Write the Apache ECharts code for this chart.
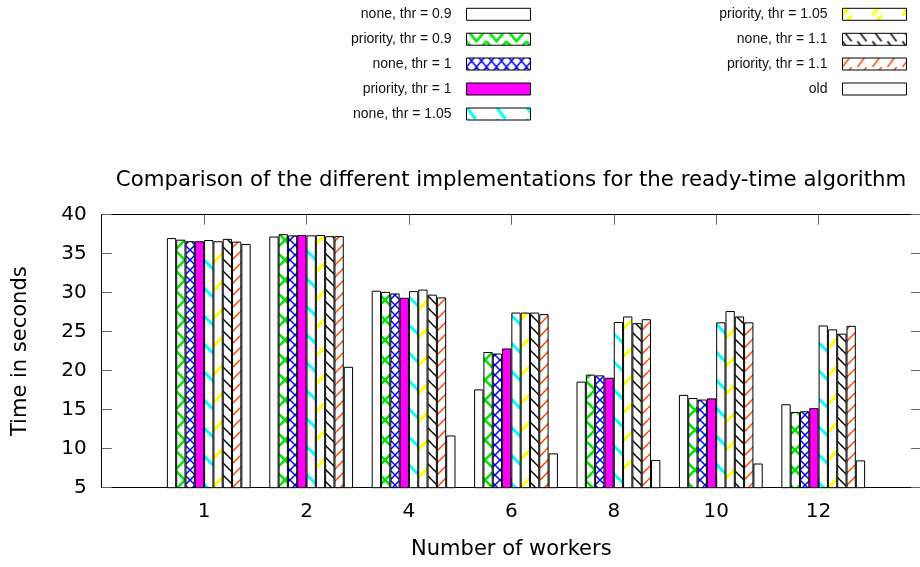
<!DOCTYPE html>
<html><head><meta charset="utf-8">
<script src="https://cdn.jsdelivr.net/npm/echarts@6/dist/echarts.min.js"></script>
<style>html,body{margin:0;padding:0;background:#fff}#c{width:920px;height:567px}</style>
</head><body><div id="c"></div>
<script>
// ---- data ----
const categories = ['1', '2', '4', '6', '8', '10', '12'];
const seriesNames = ['none, thr = 0.9', 'priority, thr = 0.9', 'none, thr = 1', 'priority, thr = 1',
  'none, thr = 1.05', 'priority, thr = 1.05', 'none, thr = 1.1', 'priority, thr = 1.1', 'old'];
const none09  = [37.0, 37.2, 30.25, 17.6, 18.6, 16.9, 15.7];
const prio09  = [36.8, 37.5, 30.1, 22.4, 19.5, 16.5, 14.7];
const none10  = [36.6, 37.35, 29.9, 22.2, 19.4, 16.3, 14.8];
const prio10  = [36.6, 37.4, 29.35, 22.85, 19.1, 16.45, 15.2];
const none105 = [36.75, 37.35, 30.2, 27.45, 26.25, 26.2, 25.8];
const prio105 = [36.6, 37.4, 30.4, 27.45, 26.95, 27.65, 25.3];
const none11  = [36.9, 37.25, 29.75, 27.45, 26.1, 26.95, 24.75];
const prio11  = [36.55, 37.25, 29.4, 27.25, 26.6, 26.2, 25.75];
const oldImpl = [36.25, 20.5, 11.7, 9.4, 8.55, 8.1, 8.5];
const yTicks = {min: 5, max: 40, interval: 5};
const titleText = 'Comparison of the different implementations for the ready-time algorithm';
const xName = 'Number of workers';
const yName = 'Time in seconds';

const allValues = [none09, prio09, none10, prio10, none105, prio105, none11, prio11, oldImpl];

// ---- patterns (tile offsets baked into the tile) ----
function tile(w, h, color, lw, segs, sx, sy) {
  sx = ((sx || 0) % w + w) % w; sy = ((sy || 0) % h + h) % h;
  const c = document.createElement('canvas'); c.width = w; c.height = h;
  const g = c.getContext('2d');
  g.fillStyle = '#fff'; g.fillRect(0, 0, w, h);
  g.strokeStyle = color; g.lineWidth = lw;
  for (const dx of [-2 * w, -w, 0, w]) for (const dy of [-2 * h, -h, 0, h]) {
    segs.forEach(s => {
      g.beginPath(); g.moveTo(s[0] + dx + sx, s[1] + dy + sy);
      for (let i = 2; i < s.length; i += 2) g.lineTo(s[i] + dx + sx, s[i + 1] + dy + sy);
      g.stroke();
    });
  }
  return {image: c, repeat: 'repeat'};
}
const back = (w, h) => [[0, 0, w, h]];
const fwd = (w, h) => [[0, h, w, 0]];
const cross = (w, h) => [[0, 0, w, h], [0, h, w, 0]];

const GREEN = '#00e600', BLUE = '#0000ff', MAG = '#ff00ff', CYAN = '#00ffff', YEL = '#ffff00', ORG = '#ff4500';

const barFills = [
  '#ffffff',
  tile(20, 20, GREEN, 2.6, cross(20, 20), 5, 0),
  tile(10, 10, BLUE, 1.5, cross(10, 10)),
  MAG,
  tile(28, 28, CYAN, 3, back(28, 28)),
  tile(28, 28, YEL, 3, fwd(28, 28)),
  tile(12, 12, '#000', 1.4, back(12, 12)),
  tile(12, 12, ORG, 1.5, fwd(12, 12)),
  '#ffffff'
];

// legend layout (two columns)
const legendRowsLeft = [13.3, 38.2, 63, 88, 113];
const legendRowsRight = [13.3, 38.3, 63, 88];
const legendPos = [];
legendRowsLeft.forEach(c => legendPos.push({right: 389, center: c}));
legendRowsRight.forEach(c => legendPos.push({right: 13, center: c}));

function legendFill(i, top) {
  const t = Math.round(top);
  switch (i) {
    case 1: return tile(20, 12, GREEN, 2.6, [[0, 0, 10, 12, 20, 0]], 0, t);
    case 2: return tile(10, 12, BLUE, 1.5, cross(10, 12), 0, t);
    case 3: return MAG;
    case 4: return tile(30, 12, CYAN, 3, [[0, 0, 9, 12]], 0, t);
    case 5: return tile(30, 12, YEL, 3, [[0, 12, 9, 0]], 0, t);
    case 6: return tile(15, 12, '#000', 1.5, [[0, 0, 9, 12]], 0, t);
    case 7: return tile(15, 12, ORG, 1.5, [[0, 12, 9, 0]], 0, t);
    default: return '#ffffff';
  }
}

const legends = seriesNames.map((name, i) => {
  const top = legendPos[i].center - 6;
  return {
    show: true, orient: 'vertical', right: legendPos[i].right, top: top, padding: 0,
    itemWidth: 64, itemHeight: 12, align: 'right', selectedMode: false,
    textStyle: {fontFamily: 'Liberation Sans', fontSize: 14, color: '#111', lineHeight: 12, padding: [0, 10, 0, 0]},
    data: [{name: name, icon: 'rect', itemStyle: {color: legendFill(i, top), borderColor: '#000', borderWidth: 1}}]
  };
});

const catData = [''].concat(categories, ['']);
const tickFilter = (idx, val) => val !== '';

const series = [{
  name: 'pad', type: 'bar', barWidth: 9.31, barGap: '0%', data: [], silent: true
}].concat(seriesNames.map((name, i) => ({
  name: name, type: 'bar', barWidth: 9.31, barGap: '0%',
  data: [null].concat(allValues[i], [null]),
  itemStyle: {color: barFills[i], borderColor: '#000', borderWidth: 1},
  emphasis: {disabled: true}, silent: true
})));

const font = 'DejaVu Sans';
const option = {
  backgroundColor: '#fff',
  animation: false,
  title: {
    text: titleText, left: 506, top: 165, textAlign: 'center',
    textStyle: {fontFamily: font, fontSize: 21.3, fontWeight: 'normal', color: '#000'}
  },
  legend: legends,
  grid: {left: 101.7, top: 214.7, width: 819.3, height: 273, containLabel: false, outerBoundsMode: 'none'},
  xAxis: [{
    type: 'category', data: catData, boundaryGap: false, position: 'bottom',
    axisLine: {show: true, lineStyle: {color: '#000', width: 1}},
    axisTick: {show: true, inside: true, length: 10, interval: tickFilter, lineStyle: {color: '#666'}},
    axisLabel: {show: true, interval: 0, margin: 14, fontFamily: font, fontSize: 20, color: '#000'},
    splitLine: {show: false},
    name: xName, nameLocation: 'middle', nameGap: 51,
    nameTextStyle: {fontFamily: font, fontSize: 21, color: '#000'}
  }, {
    type: 'category', data: catData, boundaryGap: false, position: 'top',
    axisLine: {show: true, lineStyle: {color: '#000', width: 1}},
    axisTick: {show: true, inside: true, length: 10, interval: tickFilter, lineStyle: {color: '#666'}},
    axisLabel: {show: false}, splitLine: {show: false}
  }],
  yAxis: [{
    type: 'value', min: yTicks.min, max: yTicks.max, interval: yTicks.interval, position: 'left',
    axisLine: {show: true, lineStyle: {color: '#000', width: 1}},
    axisTick: {show: true, inside: true, length: 10, lineStyle: {color: '#666'}},
    axisLabel: {margin: 15, fontFamily: font, fontSize: 20, color: '#000'},
    splitLine: {show: false},
    name: yName, nameLocation: 'middle', nameGap: 71,
    nameTextStyle: {fontFamily: font, fontSize: 21, color: '#000'}
  }, {
    type: 'value', min: yTicks.min, max: yTicks.max, interval: yTicks.interval, position: 'right',
    axisLine: {show: true, lineStyle: {color: '#000', width: 1}},
    axisTick: {show: true, inside: true, length: 10, lineStyle: {color: '#666'}},
    axisLabel: {show: false}, splitLine: {show: false}
  }],
  series: series
};
const chart = echarts.init(document.getElementById('c'), null, {renderer: 'canvas'});
chart.setOption(option);
</script>
</body></html>
